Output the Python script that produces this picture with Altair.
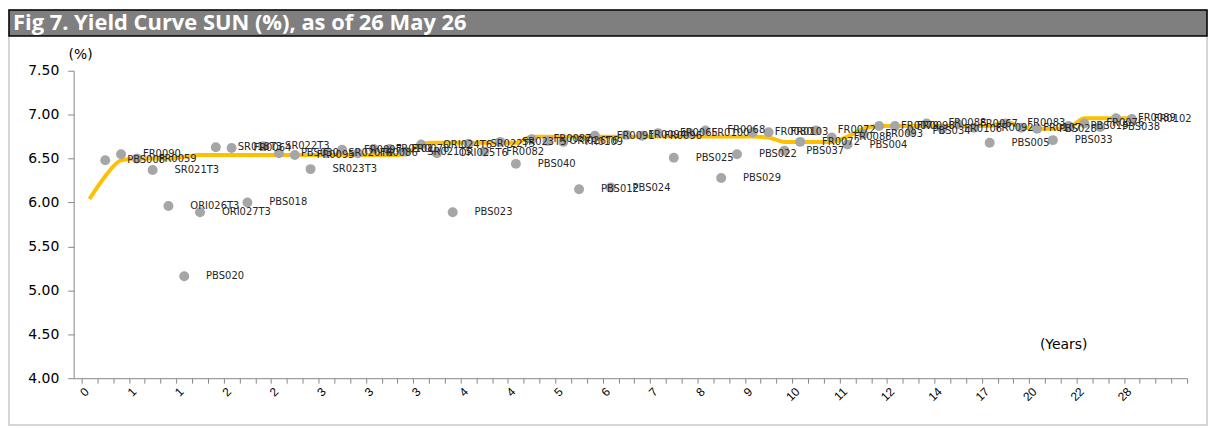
import json
import altair as alt
import pandas as pd

# ---------------- data ----------------
bond_idx = list(range(1, 67))
bond_names = [
    "PBS008", "FR0090", "FR0059", "SR021T3", "ORI026T3", "PBS020", "ORI027T3", "SR018T3",
    "FR0064", "PBS018", "SR022T3", "PBS030", "FR0095", "SR023T3", "SR020T6", "FR0097",
    "FR0086", "FR0101", "FR0078", "SR021T5", "ORI024T6", "ORI025T6", "PBS023", "SR022T5",
    "FR0082", "SR023T5", "PBS040", "FR0087", "ORI026T6", "FR0109", "PBS012", "FR0091",
    "PBS024", "FR0094", "FR0096", "FR0065", "PBS025", "FR0100", "FR0068", "PBS029",
    "PBS022", "FR0080", "FR0103", "PBS037", "FR0072", "FR0072", "FR0088", "PBS004",
    "FR0093", "FR0079", "FR0098", "PBS034", "FR0088", "FR0106", "FR0067", "FR0092",
    "PBS005", "FR0083", "FR0107", "PBS028", "PBS033", "PBS015", "FR0076", "PBS038",
    "FR0089", "FR0102",
]
bond_yields = [
    6.48, 6.55, 6.50, 6.37, 5.96, 5.16, 5.89, 6.63,
    6.62, 6.00, 6.64, 6.56, 6.54, 6.38, 6.56, 6.60,
    6.56, 6.61, 6.61, 6.58, 6.66, 6.56, 5.89, 6.67,
    6.58, 6.69, 6.44, 6.72, 6.70, 6.69, 6.15, 6.76,
    6.17, 6.77, 6.76, 6.79, 6.51, 6.79, 6.82, 6.28,
    6.55, 6.80, 6.80, 6.59, 6.69, 6.82, 6.74, 6.66,
    6.78, 6.87, 6.87, 6.81, 6.90, 6.84, 6.89, 6.85,
    6.68, 6.90, 6.85, 6.84, 6.71, 6.87, 6.90, 6.86,
    6.96, 6.95,
]
curve_idx = list(range(0, 67))
curve_vals = [
    6.04, 6.30, 6.48, 6.50, 6.50, 6.50, 6.52, 6.54, 6.54, 6.54,
    6.54, 6.54, 6.54, 6.54, 6.54, 6.54, 6.54, 6.54, 6.54, 6.54,
    6.55, 6.67, 6.68, 6.68, 6.68, 6.68, 6.68, 6.68, 6.75, 6.75,
    6.75, 6.75, 6.75, 6.75, 6.75, 6.75, 6.75, 6.75, 6.75, 6.75,
    6.75, 6.75, 6.75, 6.74, 6.69, 6.69, 6.69, 6.69, 6.75, 6.84,
    6.87, 6.87, 6.87, 6.87, 6.87, 6.87, 6.87, 6.87, 6.92, 6.86,
    6.84, 6.84, 6.85, 6.96, 6.96, 6.96, 6.96,
]
x_tick_labels = ["0", "1", "1", "2", "2", "3", "3", "3", "4", "4", "5", "6",
                 "7", "8", "9", "10", "11", "12", "14", "17", "20", "22", "28"]
y_ticks = [4.0, 4.5, 5.0, 5.5, 6.0, 6.5, 7.0, 7.5]

title_text = "Fig 7. Yield Curve SUN (%), as of 26 May 26"

bonds = pd.DataFrame({"idx": bond_idx, "name": bond_names, "yld": bond_yields})
curve = pd.DataFrame({"idx": curve_idx, "yld": curve_vals})
dummy = pd.DataFrame({"a": [0]})

# ---------------- geometry ----------------
W, H = 1119, 309
band = W / 70.5
GRAY_AX = "#868686"

label_arr = json.dumps(x_tick_labels).replace('"', "'")
label_expr = (
    f"((datum.value + 0.5) % 3 == 0 && (datum.value + 0.5) / 3 < {len(x_tick_labels)})"
    f" ? {label_arr}[(datum.value + 0.5) / 3] : ''"
)

x_enc = alt.X(
    "idx:Q",
    scale=alt.Scale(domain=[-1, 69.5], nice=False, zero=False),
    axis=alt.Axis(
        values=[k - 0.5 for k in range(71)],
        labelExpr=label_expr,
        labelOffset=band / 2 - 3,
        labelAngle=-45,
        labelAlign="right",
        labelBaseline="middle",
        labelFont="Liberation Sans",
        labelFontSize=12,
        labelColor="#000000",
        labelOverlap=False,
        labelFlush=False,
        labelPadding=6,
        tickSize=5,
        tickColor=GRAY_AX,
        domainColor=GRAY_AX,
        grid=False,
        title=None,
        zindex=1,
    ),
)
y_enc = alt.Y(
    "yld:Q",
    scale=alt.Scale(domain=[4.0, 7.5], nice=False, zero=False),
    axis=alt.Axis(
        values=y_ticks,
        format=".2f",
        labelFont="DejaVu Sans",
        labelFontSize=14,
        labelColor="#000000",
        labelPadding=9,
        tickSize=6,
        tickColor=GRAY_AX,
        domainColor=GRAY_AX,
        grid=False,
        title=None,
        zindex=1,
    ),
)

frame = alt.Chart(dummy).mark_rect(fill="white", stroke="#c8c8c8", strokeWidth=1.5).encode(
    x=alt.value(-65), x2=alt.value(1139), y=alt.value(-61), y2=alt.value(356)
)
bar = alt.Chart(dummy).mark_rect(fill="#7f7f7f", stroke="#000000", strokeWidth=1.5).encode(
    x=alt.value(-65), x2=alt.value(1139), y=alt.value(-61), y2=alt.value(-35)
)
title = alt.Chart(dummy).mark_text(
    text=title_text, align="left", baseline="middle", font="Open Sans", fontSize=22,
    fontWeight="bold", color="white"
).encode(x=alt.value(-61), y=alt.value(-47.5))
pct = alt.Chart(dummy).mark_text(
    text="(%)", align="center", baseline="middle", font="DejaVu Sans", fontSize=14, color="#000000"
).encode(x=alt.value(7), y=alt.value(-16))
years = alt.Chart(dummy).mark_text(
    text="(Years)", align="center", baseline="middle", font="DejaVu Sans", fontSize=14, color="#000000"
).encode(x=alt.value(995), y=alt.value(276))

line = alt.Chart(curve).mark_line(color="#FFC000", strokeWidth=4, interpolate="monotone").encode(
    x=x_enc, y=y_enc
)
pts = alt.Chart(bonds).mark_circle(size=100, color="#a6a6a6", opacity=1).encode(x=x_enc, y=y_enc)
lbls = alt.Chart(bonds).mark_text(
    align="left", baseline="middle", dx=22, font="DejaVu Sans", fontSize=10, color="#262626"
).encode(x=x_enc, y=y_enc, text="name:N")

chart = alt.layer(frame, bar, title, pct, years, line, pts, lbls).properties(
    width=W, height=H, padding=0, background="white"
).configure_view(stroke=None)

chart.save("out.html", embed_options={"renderer": "svg", "actions": False})
